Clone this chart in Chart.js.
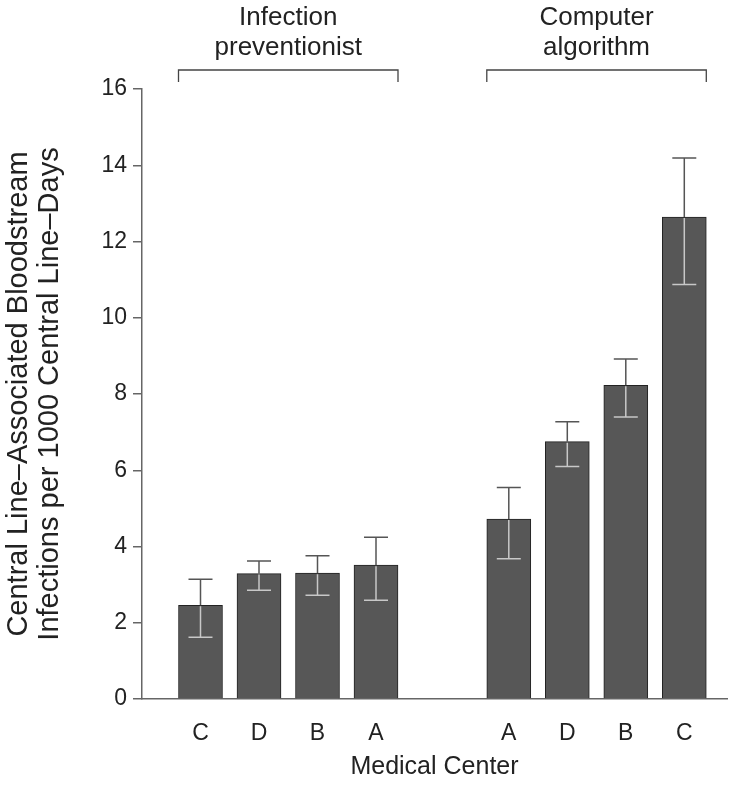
<!DOCTYPE html>
<html>
<head>
<meta charset="utf-8">
<script src="https://cdn.jsdelivr.net/npm/chart.js@4.4.0/dist/chart.umd.min.js"></script>
<style>
  html, body { margin: 0; padding: 0; background: #fff; }
  #wrap { width: 754px; height: 786px; }
</style>
</head>
<body>
<div id="wrap"><canvas id="chart"></canvas></div>
<script>
const groups = ["Infection\npreventionist", "Computer\nalgorithm"];
const centers = ["C", "D", "B", "A", "A", "D", "B", "C"];
const groupOf = [0, 0, 0, 0, 1, 1, 1, 1];
const slotPos = [1, 2, 3, 4, 6.27, 7.27, 8.27, 9.27];
const rates = [2.46, 3.29, 3.30, 3.51, 4.72, 6.75, 8.23, 12.64];
const errLow = [1.62, 2.85, 2.72, 2.59, 3.68, 6.10, 7.40, 10.87];
const errHigh = [3.14, 3.62, 3.76, 4.24, 5.55, 7.27, 8.92, 14.19];
const yTicks = [0, 2, 4, 6, 8, 10, 12, 14, 16];

const FONT = "'Liberation Sans', Arial, sans-serif";
const INK = "#222";

const errorBars = {
  id: "errorBars",
  afterDatasetsDraw(chart) {
    const ctx = chart.ctx;
    const y = chart.scales.y;
    const bars = chart.getDatasetMeta(0).data;
    ctx.save();
    ctx.lineWidth = 1.5;
    bars.forEach((b, i) => {
      const top = y.getPixelForValue(rates[i]);
      const hi = y.getPixelForValue(errHigh[i]);
      const lo = y.getPixelForValue(errLow[i]);
      const cap = 12;
      ctx.strokeStyle = "#555";
      ctx.beginPath();
      ctx.moveTo(b.x, top); ctx.lineTo(b.x, hi);
      ctx.moveTo(b.x - cap, hi); ctx.lineTo(b.x + cap, hi);
      ctx.stroke();
      ctx.strokeStyle = "#c8c8c8";
      ctx.beginPath();
      ctx.moveTo(b.x, top + 1); ctx.lineTo(b.x, lo);
      ctx.moveTo(b.x - cap, lo); ctx.lineTo(b.x + cap, lo);
      ctx.stroke();
    });
    ctx.restore();
  }
};

const groupBrackets = {
  id: "groupBrackets",
  afterDraw(chart) {
    const ctx = chart.ctx;
    const bars = chart.getDatasetMeta(0).data;
    ctx.save();
    groups.forEach((g, gi) => {
      const idx = groupOf.map((v, i) => v === gi ? i : -1).filter(i => i >= 0);
      const first = bars[idx[0]], last = bars[idx[idx.length - 1]];
      const x0 = first.x - first.width / 2, x1 = last.x + last.width / 2;
      const by = 70;
      ctx.strokeStyle = "#444";
      ctx.lineWidth = 1.3;
      ctx.beginPath();
      ctx.moveTo(x0, by + 12); ctx.lineTo(x0, by); ctx.lineTo(x1, by); ctx.lineTo(x1, by + 12);
      ctx.stroke();
      ctx.fillStyle = INK;
      ctx.font = "26px " + FONT;
      ctx.textAlign = "center";
      ctx.textBaseline = "alphabetic";
      g.split("\n").forEach((line, li) => {
        ctx.fillText(line, (x0 + x1) / 2, 25 + li * 30);
      });
    });
    ctx.restore();
  }
};

new Chart(document.getElementById("chart"), {
  type: "bar",
  data: {
    datasets: [{
      data: slotPos.map((x, i) => ({ x, y: rates[i] })),
      backgroundColor: "#575757",
      borderColor: "#222",
      borderWidth: 1,
      barThickness: 44
    }]
  },
  options: {
    responsive: true,
    maintainAspectRatio: false,
    animation: false,
    layout: { padding: { top: 89, right: 27, left: 4, bottom: 0 } },
    plugins: { legend: { display: false }, tooltip: { enabled: false } },
    scales: {
      x: {
        type: "linear",
        offset: false,
        min: 0,
        max: 10,
        grid: { display: false },
        border: { display: true, color: "#666", width: 1.5 },
        afterBuildTicks: s => { s.ticks = slotPos.map(v => ({ value: v })); },
        afterFit: s => { s.height = 87; },
        ticks: {
          autoSkip: false,
          maxRotation: 0,
          padding: 13,
          color: INK,
          font: { family: FONT, size: 23 },
          callback: (v, i) => centers[i]
        },
        title: {
          display: true,
          text: "Medical Center",
          color: INK,
          font: { family: FONT, size: 25 },
          padding: { top: 0 }
        }
      },
      y: {
        min: 0,
        max: 16,
        afterBuildTicks: s => { s.ticks = yTicks.map(v => ({ value: v })); },
        afterFit: s => { s.width = 138; },
        grid: { drawOnChartArea: false, drawTicks: true, tickLength: 9, color: "#666", lineWidth: 1.5 },
        border: { display: true, color: "#666", width: 1.5 },
        ticks: {
          padding: 6,
          color: INK,
          font: { family: FONT, size: 23 }
        },
        title: {
          display: true,
          text: ["Central Line\u2013Associated Bloodstream", "Infections per 1000 Central Line\u2013Days"],
          color: INK,
          font: { family: FONT, size: 29, lineHeight: 1.05 },
          padding: { top: 0, bottom: 0 }
        }
      }
    }
  },
  plugins: [errorBars, groupBrackets]
});
</script>
</body>
</html>
